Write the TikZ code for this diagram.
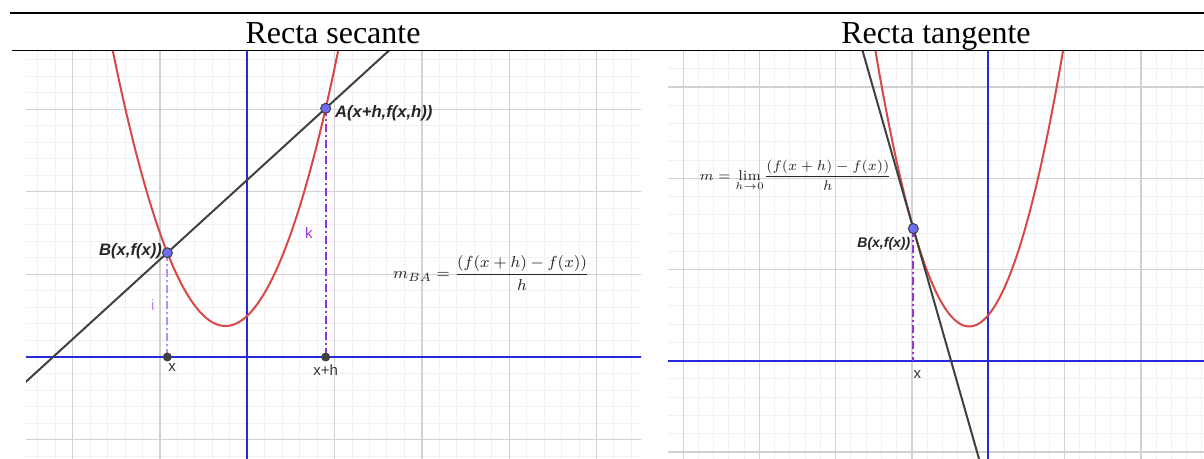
\documentclass[tikz,border=0pt]{standalone}
\usepackage{amsmath}
\usepackage{fontspec}
\newfontfamily\titlefont{Liberation Serif}
\newfontfamily\ggbfont{Liberation Sans}
\usetikzlibrary{calc}

\definecolor{ggbred}{RGB}{217,72,72}
\definecolor{ggbblue}{RGB}{40,40,220}
\definecolor{ggbline}{RGB}{64,64,64}
\definecolor{ggbpoint}{RGB}{110,110,245}
\definecolor{ggbpurple}{RGB}{150,50,230}
\definecolor{ggblilac}{RGB}{185,140,250}
\definecolor{gridmajor}{RGB}{210,210,210}
\definecolor{gridminor}{RGB}{241,241,241}

\tikzset{
  minorgrid/.style={gridminor,line width=0.5pt},
  majorgrid/.style={gridmajor,line width=0.6pt},
  axisline/.style={ggbblue,line width=1pt},
  curva/.style={ggbred,line width=1pt},
  recta/.style={ggbline,line width=1pt},
  proy/.style={ggbpurple,line width=1pt,dash pattern=on 4pt off 1.5pt on 1pt off 1.5pt},
  punto/.style={circle,fill=ggbpoint,draw=black!75,line width=0.5pt,inner sep=0pt,minimum size=5pt},
  pie/.style={circle,fill=black!75,inner sep=0pt,minimum size=4.5pt},
  etiq/.style={font={\ggbfont\bfseries\itshape\fontsize{8.3}{10}\selectfont},text=black!85,inner sep=0pt},
  eje/.style={font={\ggbfont\fontsize{7.5}{9}\selectfont},text=black!80,inner sep=0pt},
  titulo/.style={font={\titlefont\fontsize{16}{19}\selectfont},inner sep=0pt}
}

\begin{document}
\begin{tikzpicture}[x=0.5pt,y=-0.5pt]
\useasboundingbox (0,0) rectangle (1204,459);
\node[titulo,anchor=base] (tsec) at (333,43.5) {Recta secante};
\node[titulo,anchor=base] (ttan) at (936,43.5) {Recta tangente};

% recta secante
\begin{scope}
\clip (26,51) rectangle (641,459);
\begin{scope}[shift={(247.3,357)},x=43.65pt,y=41.3pt]
  \foreach \i in {-13,...,23} \draw[minorgrid] (\i/5,-1.4) -- (\i/5,3.8);
  \foreach \j in {-7,...,19} \draw[minorgrid] (-2.6,\j/5) -- (4.6,\j/5);
  \foreach \i in {-2,...,4} \draw[majorgrid] (\i,-1.4) -- (\i,3.8);
  \foreach \j in {-1,...,3} \draw[majorgrid] (-2.6,\j) -- (4.6,\j);
  \draw[axisline] (-2.6,0) -- (4.6,0);
  \draw[axisline] (0,-1.4) -- (0,3.8);
  \coordinate (B) at (-0.916,1.262);
  \coordinate (A) at (0.898,3.011);
  \coordinate (Px) at (-0.916,0);
  \coordinate (Pxh) at (0.898,0);
  \draw[curva,domain=-1.6:1.1,samples=80,smooth] plot (\x,{2*\x*\x+\x+0.5});
  \draw[recta] ($(B)!-1.5!(A)$) -- ($(B)!2!(A)$);
  \draw[proy,ggblilac] (B) -- (Px) node[midway,left=6pt,eje,text=ggblilac] (li) {i};
  \draw[proy] (A) -- (Pxh) node[midway,left=6pt,eje,text=ggbpurple] (lk) {k};
  \node[pie] (ptx) at (Px) {};
  \node[pie] (ptxh) at (Pxh) {};
  \node[punto] (ptB) at (B) {};
  \node[punto] (ptA) at (A) {};
  \node[etiq,anchor=east,xshift=-2.5pt,yshift=1pt] (lB) at (B) {B(x,f(x))};
  \node[etiq,anchor=west,xshift=4.5pt,yshift=-2.5pt] (lA) at (A) {A(x+h,f(x,h))};
  \node[eje,anchor=base,xshift=2.4pt,yshift=-7.3pt] (lx) at (Px) {x};
  \node[eje,anchor=base,yshift=-9.4pt] (lxh) at (Pxh) {x+h};
  \node[anchor=base west,inner sep=0pt,yshift=-2.1pt,font={\fontsize{8.4}{10}\selectfont},text=black!85] (mBA) at (1.666,1.001)
    {$\displaystyle m_{BA}=\frac{(f(x+h)-f(x))}{h}$};
\end{scope}
\end{scope}

% recta tangente
\begin{scope}
\clip (668,51) rectangle (1204,459);
\begin{scope}[shift={(988.3,360.7)},x=38.15pt,y=45.6pt]
  \foreach \i in {-22,...,15} \draw[minorgrid] (\i/5,-1.3) -- (\i/5,3.5);
  \foreach \j in {-6,...,18} \draw[minorgrid] (-4.4,\j/5) -- (3,\j/5);
  \foreach \i in {-4,...,3} \draw[majorgrid] (\i,-1.3) -- (\i,3.5);
  \foreach \j in {-1,...,3} \draw[majorgrid] (-4.4,\j) -- (3,\j);
  \draw[axisline] (-4.4,0) -- (3,0);
  \draw[axisline] (0,-1.3) -- (0,3.5);
  \coordinate (T) at (-0.983,1.449);
  \coordinate (T2) at (0.017,-1.483);
  \coordinate (Tx) at (-0.983,0);
  \draw[curva,domain=-1.6:1.1,samples=80,smooth] plot (\x,{2*\x*\x+\x+0.5});
  \draw[recta] ($(T)!-1!(T2)$) -- ($(T)!1.2!(T2)$);
  \draw[proy] (T) -- (Tx);
  \node[punto] (ptT) at (T) {};
  \node[etiq,anchor=east,xshift=-1.3pt,yshift=-7.8pt,font={\ggbfont\bfseries\itshape\fontsize{7}{9}\selectfont}] (lT) at (T) {B(x,f(x))};
  \node[eje,anchor=base,xshift=2pt,yshift=-8.8pt] (ltx) at (Tx) {x};
  \node[anchor=base west,inner sep=0pt,yshift=-1.8pt,font={\fontsize{7.1}{9}\selectfont},text=black!85] (mlim) at (-3.788,2.018)
    {$\displaystyle m=\lim_{h\to0}\!\frac{(f(x+h)-f(x))}{h}$};
\end{scope}
\end{scope}

% reglas de la tabla
\draw[line width=1.2pt] (10,13) -- (1204,13);
\draw[line width=0.6pt] (12,50.5) -- (1204,50.5);
\end{tikzpicture}
\end{document}
